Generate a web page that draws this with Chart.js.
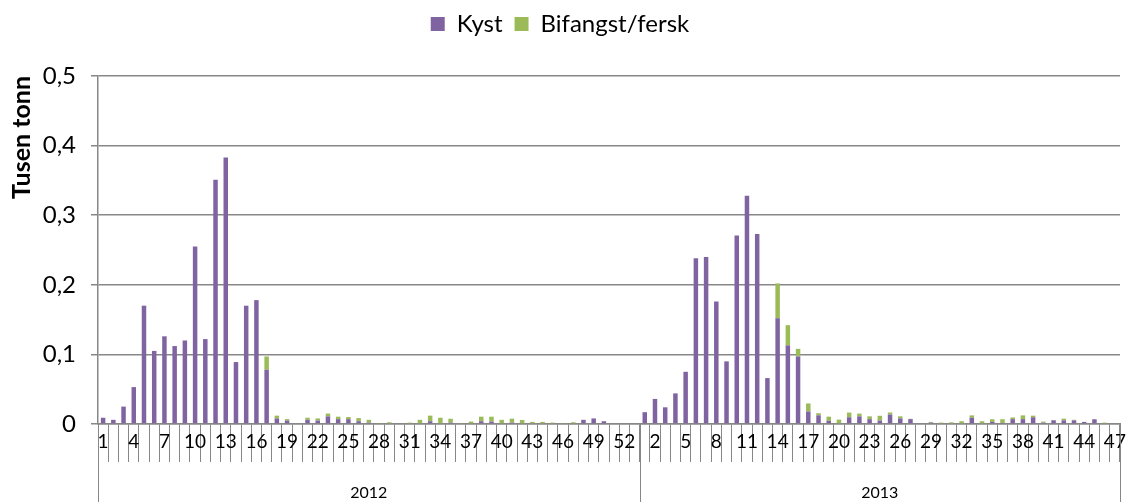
<!DOCTYPE html>
<html>
<head>
<meta charset="utf-8">
<script src="https://cdn.jsdelivr.net/npm/chart.js@4.4.1/dist/chart.umd.min.js"></script>
<style>
  html, body { margin: 0; padding: 0; background: #ffffff; }
  #wrap { width: 1126px; height: 502px; position: relative; }
</style>
</head>
<body>
<div id="wrap"><canvas id="c" width="1126" height="502"></canvas></div>
<script>
// ---- Data ----
const yearLabels = ['2012', '2013'];
const weeks2012 = ['1','2','3','4','5','6','7','8','9','10','11','12','13','14','15','16','17','18','19','20','21','22','23','24','25','26','27','28','29','30','31','32','33','34','35','36','37','38','39','40','41','42','43','44','45','46','47','48','49','50','51','52','53'];
const weeks2013 = ['1','2','3','4','5','6','7','8','9','10','11','12','13','14','15','16','17','18','19','20','21','22','23','24','25','26','27','28','29','30','31','32','33','34','35','36','37','38','39','40','41','42','43','44','45','46','47'];

const kyst2012 = [0.009,0.006,0.025,0.053,0.170,0.105,0.126,0.112,0.120,0.255,0.122,0.351,0.383,0.089,0.170,0.178,0.078,0.008,0.005,0,0.006,0.005,0.011,0.007,0.007,0.004,0.002,0,0,0,0,0,0.004,0,0.002,0,0,0.004,0.0035,0,0.002,0,0,0,0,0,0,0.006,0.008,0.004,0,0,null];
const bif2012  = [0,0,0,0,0,0,0,0,0,0,0,0,0,0,0,0,0.019,0.004,0.002,0.001,0.003,0.003,0.004,0.0035,0.003,0.0045,0.004,0.0015,0.0025,0,0.002,0.006,0.008,0.009,0.0055,0.0015,0.0035,0.0065,0.007,0.006,0.0057,0.0058,0.003,0.003,0.002,0.0015,0.0025,0,0,0,0,0,null];
const kyst2013 = [0.017,0.036,0.024,0.044,0.075,0.238,0.240,0.176,0.090,0.271,0.328,0.273,0.066,0.152,0.113,0.097,0.018,0.0125,0.0045,0,0.0097,0.011,0.007,0.005,0.0135,0.008,0.007,0,0.002,0,0,0,0.009,0,0.003,0.0015,0.007,0.007,0.0097,0.002,0.0053,0.0053,0.0053,0.003,0.0068,0,0];
const bif2013  = [0,0,0,0,0,0,0,0,0,0,0,0,0,0.050,0.029,0.011,0.0115,0.003,0.006,0.0063,0.0067,0.004,0.004,0.0068,0.003,0.003,0.0005,0,0.001,0.002,0.0024,0.004,0.0034,0.004,0.0038,0.0053,0.0024,0.0054,0.0023,0.0014,0.0005,0.0024,0.0007,0,0,0.002,0];

const yTicks = [0, 0.1, 0.2, 0.3, 0.4, 0.5];
const seriesNames = ['Kyst', 'Bifangst/fersk'];

// ---- Build chart inputs ----
const categories = weeks2012.concat(weeks2013);
const kyst = kyst2012.concat(kyst2013);
const bif = bif2012.concat(bif2013);
const n2012 = weeks2012.length;
const nAll = categories.length;

const FONT = 'Lato, "Open Sans", sans-serif';
const GRID = '#878787';

const legendSpace = {
  id: 'legendSpace',
  beforeInit(chart) {
    const lg = chart.legend;
    if (!lg) return;
    const orig = lg.fit;
    lg.fit = function () { orig.call(this); this.height += 30; };
  }
};

const yearSeparators = {
  id: 'yearSeparators',
  afterDraw(chart) {
    const x = chart.scales.x;
    const ctx = chart.ctx;
    const mid = (x.getPixelForValue(n2012 - 1) + x.getPixelForValue(n2012)) / 2;
    const top = chart.chartArea.bottom;
    ctx.save();
    ctx.strokeStyle = GRID;
    ctx.lineWidth = 1;
    [x.left, mid, x.right].forEach(p => {
      const px = Math.round(p) + 0.5;
      ctx.beginPath();
      ctx.moveTo(px, top);
      ctx.lineTo(px, chart.height);
      ctx.stroke();
    });
    ctx.restore();
  }
};

new Chart(document.getElementById('c'), {
  type: 'bar',
  data: {
    labels: categories,
    datasets: [
      { label: seriesNames[0], data: kyst, backgroundColor: '#8064A2', borderWidth: 0, categoryPercentage: 1.0, barPercentage: 0.44 },
      { label: seriesNames[1], data: bif, backgroundColor: '#9BBB59', borderWidth: 0, categoryPercentage: 1.0, barPercentage: 0.44 }
    ]
  },
  options: {
    responsive: false,
    animation: false,
    devicePixelRatio: 1,
    layout: { padding: { top: 0, left: 0, right: 6, bottom: 0 } },
    plugins: {
      legend: {
        position: 'top',
        align: 'center',
        labels: {
          boxWidth: 14, boxHeight: 14, padding: 12,
          color: '#000', font: { family: FONT, size: 24 }
        }
      },
      tooltip: { enabled: false }
    },
    scales: {
      x: {
        type: 'category',
        stacked: true,
        offset: true,
        weight: 0,
        grid: { offset: true, drawOnChartArea: false, drawTicks: true, tickLength: 38, color: GRID, lineWidth: 1 },
        border: { display: true, color: GRID, width: 1.5 },
        ticks: {
          autoSkip: false, maxRotation: 0, minRotation: 0,
          padding: -32,
          color: '#000', font: { family: FONT, size: 19 },
          callback: function (v, i) { return i % 3 === 0 ? this.getLabelForValue(v) : ''; }
        },
        afterFit: (a) => { a.height = 40; }
      },
      x2: {
        type: 'linear',
        position: 'bottom',
        offset: false,
        min: -0.5, max: nAll - 0.5,
        weight: 1,
        grid: { display: false, drawTicks: false, offset: false },
        border: { display: false },
        afterBuildTicks: (a) => { a.ticks = [{ value: (n2012 - 1) / 2 }, { value: n2012 + (nAll - n2012 - 1) / 2 }]; },
        ticks: {
          autoSkip: false, maxRotation: 0, padding: 19,
          color: '#000', font: { family: FONT, size: 16 },
          callback: (v) => (v < n2012 ? yearLabels[0] : yearLabels[1])
        },
        afterFit: (a) => { a.height = 38; }
      },
      y: {
        stacked: true,
        min: 0, max: 0.5,
        afterBuildTicks: (a) => { a.ticks = yTicks.map(v => ({ value: v })); },
        grid: { color: GRID, lineWidth: 1.5, drawTicks: true, tickLength: 7 },
        border: { display: true, color: GRID, width: 1.5 },
        ticks: {
          padding: 15, color: '#000', font: { family: FONT, size: 24 },
          callback: (v) => (v === 0 ? '0' : v.toFixed(1).replace('.', ','))
        },
        title: {
          display: true, text: 'Tusen tonn', align: 'end',
          color: '#000', font: { family: FONT, size: 25, weight: 'bold' },
          padding: { top: 7, bottom: 0 }
        },
        afterFit: (a) => { a.width = 98; }
      }
    }
  },
  plugins: [legendSpace, yearSeparators]
});
</script>
</body>
</html>
